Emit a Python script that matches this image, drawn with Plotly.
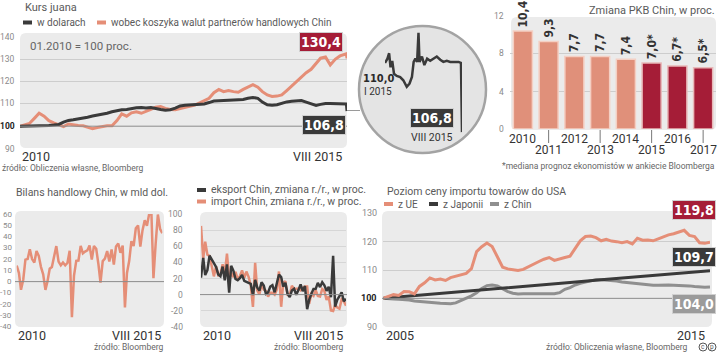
import plotly.graph_objects as go
import pandas as pd

W, H = 720, 353
def fx(px): return px / W
def fy(py): return 1 - py / H

# ---------------- DATA ----------------
# Panel 1: yuan exchange rate index (01.2010 = 100), monthly Jan 2010 - Jul 2015, then 10 and 14 Aug 2015
yuan_dates = [d.strftime('%Y-%m-%d') for d in pd.date_range('2010-01-01', '2015-07-01', freq='MS')] + ['2015-08-10', '2015-08-14']
yuan_usd = [100, 100, 100, 100, 100, 100, 100.3, 100.5, 100.8, 101.8, 102.6, 102.9,
            103.2, 103.5, 104, 104.6, 104.9, 105.3, 105.8, 106.5, 107, 107.4, 107.5, 108,
            108.3, 108.4, 108.2, 108.4, 107.8, 107.5, 107.2, 107.4, 108.1, 109.1, 109.4, 109.5,
            109.6, 109.6, 110, 110.6, 111.3, 111.4, 111.5, 111.6, 111.6, 111.8, 112, 112.5,
            112.9, 112.5, 110.8, 109.6, 109.4, 109.6, 110.4, 110.9, 111.2, 111.5, 111.5, 110.8,
            110.0, 109.3, 109.8, 110.2, 110.2, 110.1, 110.1, 110.0, 106.8]
yuan_basket = [100, 100.5, 101.2, 103.5, 105.8, 104.5, 102.5, 101.5, 100.5, 99.8, 101, 100.6,
               100.3, 100.2, 99.6, 98.9, 99.4, 99.8, 100.2, 100.2, 102.5, 105.5, 104.5, 106,
               106.5, 105.8, 106.8, 107.5, 108.5, 108.8, 108, 107.5, 107.4, 108, 108.6, 109,
               109.5, 110.5, 111.5, 112.5, 115, 116.5, 115.5, 116, 115.5, 115.2, 116.5, 117.5,
               118.6, 117.5, 115.5, 114, 113.3, 113.5, 114, 116, 118, 120, 122, 124,
               125.5, 128, 130.5, 131, 127.5, 130, 131.5, 132.5, 130.4]

# Circle: zoom on USD rate in 2015
zoom_dates = ['2015-01-02', '2015-01-09', '2015-01-14', '2015-01-18', '2015-01-23', '2015-01-28',
              '2015-02-05', '2015-02-15', '2015-02-24', '2015-03-06', '2015-03-14', '2015-03-21',
              '2015-03-26', '2015-03-31', '2015-04-05', '2015-04-09', '2015-04-12', '2015-04-19',
              '2015-04-26', '2015-05-04', '2015-05-13', '2015-05-22', '2015-06-01', '2015-06-11',
              '2015-06-20', '2015-06-30', '2015-07-10', '2015-07-20', '2015-08-03', '2015-08-10',
              '2015-08-13']
zoom_usd = [110.0, 110.2, 110.45, 109.8, 110.1, 109.5, 109.4, 109.35, 109.2, 108.9, 109.05, 109.35,
            110.05, 110.2, 110.05, 111.4, 110.05, 110.3, 109.9, 110.2, 110.1, 110.2, 110.3, 110.15,
            110.05, 110.1, 110.05, 110.05, 110.05, 110.0, 106.8]

# Panel: GDP change
gdp_years = ['2010', '2011', '2012', '2013', '2014', '2015', '2016', '2017']
gdp_values = [10.4, 9.3, 7.7, 7.7, 7.4, 7.0, 6.7, 6.5]
gdp_labels = ['10,4', '9,3', '7,7', '7,7', '7,4', '7,0*', '6,7*', '6,5*']
gdp_forecast = [False, False, False, False, False, True, True, True]

# Panel: trade balance, bn USD, monthly Jan 2010 - Jul 2015
tb_dates = [d.strftime('%Y-%m-%d') for d in pd.date_range('2010-01-01', '2015-07-01', freq='MS')]
trade_balance = [14.2, 7.6, -7.2, 1.7, 19.5, 20.0, 28.7, 20.0, 16.9, 27.1, 22.9, 13.1,
                 6.5, -7.3, 0.1, 11.4, 13.0, 22.3, 31.5, 17.8, 14.5, 17.0, 14.5, 16.5,
                 27.3, -31.5, 5.4, 18.4, 18.7, 31.7, 25.1, 26.7, 27.7, 32.0, 19.6, 31.6,
                 29.2, 15.2, -0.9, 18.2, 20.4, 27.1, 17.8, 28.5, 15.2, 31.1, 33.8, 25.6,
                 31.9, -23.0, 7.7, 18.5, 35.9, 31.6, 47.3, 49.8, 31.0, 45.4, 54.5, 49.6,
                 60.0, 60.6, 3.1, 34.1, 59.5, 46.5, 43.0]

# Panel: exports / imports y/y, %, monthly Jan 2010 - Aug 2015
xm_dates = [d.strftime('%Y-%m-%d') for d in pd.date_range('2010-01-01', '2015-08-01', freq='MS')]
exports_yoy = [21.0, 45.7, 24.3, 30.5, 48.5, 43.9, 38.1, 34.4, 25.1, 22.9, 34.9, 17.9,
               37.7, 2.4, 35.8, 29.9, 19.4, 17.9, 20.4, 24.5, 17.1, 15.9, 13.8, 13.4,
               -0.5, 18.4, 8.9, 4.9, 15.3, 11.3, 1.0, 2.7, 9.9, 11.6, 2.9, 14.1,
               25.0, 21.8, 10.0, 14.7, 1.0, -3.1, 5.1, 7.2, -0.3, 5.6, 12.7, 4.3,
               10.6, -18.1, -6.6, 0.9, 7.0, 7.2, 14.5, 9.4, 15.3, 11.6, 4.7, 9.7,
               -3.3, 48.3, -15.0, -6.4, -2.5, 2.8, -8.3, -5.5]
imports_yoy = [85.5, 44.7, 66.0, 49.7, 48.3, 34.1, 22.7, 35.2, 24.1, 25.3, 37.7, 25.6,
               51.0, 19.4, 27.3, 21.8, 28.4, 19.3, 22.9, 30.2, 20.9, 28.7, 22.1, 11.8,
               -15.3, 39.6, 5.3, 0.3, 12.7, 6.3, 4.7, -2.6, 2.4, 2.4, 0.0, 6.0,
               28.8, -15.2, 14.1, 16.8, -0.3, -0.7, 10.9, 7.0, 7.4, 7.6, 5.3, 8.3,
               10.0, 10.1, -11.3, 0.8, -1.6, 5.5, -1.6, -2.4, 7.0, 4.6, -6.7, -2.4,
               -19.9, -20.5, -12.7, -16.2, -17.6, -6.1, -8.1, -13.8]

# Panel: US import price levels, every 2 months Jan 2005 - Jul 2015
us_dates = [d.strftime('%Y-%m-%d') for d in pd.date_range('2005-01-01', periods=64, freq='2MS')]
us_from_eu = [100, 100.7, 101.3, 101.0, 102.4, 102.3, 101.6, 104.2, 105.5, 107.2,
              106.5, 106.8, 106.3, 107.3, 107.8, 108.3, 108.8, 110.5, 116.5, 118.2,
              119.5, 118.3, 114.5, 111.0, 110.4, 110.0, 109.8, 110.2, 111.2, 112.3,
              113.0, 113.8, 114.4, 113.4, 113.8, 114.4, 114.9, 117.5, 120.3, 121.8,
              122.0, 121.4, 120.3, 120.8, 120.2, 120.0, 119.6, 120.0, 119.2, 121.2,
              120.5, 120.6, 120.3, 121.0, 121.8, 122.4, 122.8, 123.5, 124.0, 122.2,
              121.8, 119.6, 119.4, 119.8]
us_from_china = [100, 100.0, 99.8, 99.7, 99.6, 99.4, 99.1, 98.9, 98.7, 98.5,
                 98.4, 98.3, 98.2, 98.1, 98.4, 99.2, 100.2, 100.9, 102.0, 103.5,
                 104.5, 104.7, 104.4, 103.4, 102.4, 101.8, 101.5, 101.6, 101.6, 101.4,
                 101.4, 101.6, 101.6, 101.6, 102.0, 103.2, 103.8, 104.7, 105.3, 105.7,
                 106.1, 106.6, 106.6, 106.5, 106.4, 106.1, 105.8, 105.6, 105.4, 105.2,
                 104.8, 104.6, 104.6, 104.6, 104.7, 104.7, 104.6, 104.6, 104.5, 104.4,
                 104.2, 104.0, 103.9, 104.0]
jp_dates = ['2005-01-01', '2006-01-01', '2007-01-01', '2008-01-01', '2009-01-01', '2010-01-01',
            '2011-01-01', '2012-01-01', '2013-01-01', '2014-01-01', '2015-01-01', '2015-07-01']
us_from_japan = [100, 100.9, 101.8, 102.8, 103.7, 104.6, 105.6, 106.6, 107.5, 108.4, 109.3, 109.7]

# ---------------- STYLE ----------------
SALMON = '#e58e77'
DARK = '#3a3a3a'
GREYL = '#8f8f8f'
RED = '#a51d37'
BG = '#ebebeb'
GRID = '#cdcdcd'
ZERO = '#8c8c8c'
TXT = '#5a5a5a'
TICK = '#8a8a8a'
FONT = 'Roboto, "Open Sans", sans-serif'
NARROW = '"Liberation Sans Narrow", "DejaVu Sans Condensed", Roboto, sans-serif'

fig = go.Figure()

# Panel 1
fig.add_trace(go.Scatter(x=yuan_dates, y=yuan_basket, mode='lines', line=dict(color=SALMON, width=3),
                         xaxis='x', yaxis='y'))
fig.add_trace(go.Scatter(x=yuan_dates, y=yuan_usd, mode='lines', line=dict(color=DARK, width=3),
                         xaxis='x', yaxis='y'))
# Circle zoom
fig.add_trace(go.Scatter(x=zoom_dates, y=zoom_usd, mode='lines', line=dict(color=DARK, width=2.5),
                         xaxis='x2', yaxis='y2'))
# GDP bars
fig.add_trace(go.Bar(x=gdp_years, y=gdp_values, width=0.74,
                     marker=dict(color=[RED if f else '#e0907a' for f in gdp_forecast],
                                 line=dict(color=['#e8b9b9' if f else '#f4cfc3' for f in gdp_forecast], width=1.5)),
                     xaxis='x3', yaxis='y3'))
# Trade balance
fig.add_trace(go.Scatter(x=tb_dates, y=trade_balance, mode='lines', line=dict(color=SALMON, width=2.5),
                         xaxis='x4', yaxis='y4'))
# Exports / imports
fig.add_trace(go.Scatter(x=xm_dates, y=imports_yoy, mode='lines', line=dict(color=SALMON, width=2.5),
                         xaxis='x5', yaxis='y5'))
fig.add_trace(go.Scatter(x=xm_dates, y=exports_yoy, mode='lines', line=dict(color=DARK, width=2.5),
                         xaxis='x5', yaxis='y5'))
# US import prices
fig.add_trace(go.Scatter(x=us_dates, y=us_from_china, mode='lines', line=dict(color=GREYL, width=3),
                         xaxis='x6', yaxis='y6'))
fig.add_trace(go.Scatter(x=jp_dates, y=us_from_japan, mode='lines', line=dict(color=DARK, width=3),
                         xaxis='x6', yaxis='y6'))
fig.add_trace(go.Scatter(x=us_dates, y=us_from_eu, mode='lines', line=dict(color=SALMON, width=3),
                         xaxis='x6', yaxis='y6'))

def ax(**kw):
    d = dict(showticklabels=False, showgrid=False, zeroline=False, showline=False, ticks='', fixedrange=True)
    d.update(kw)
    return d

layout = dict(
    width=W, height=H, margin=dict(l=0, r=0, t=0, b=0), showlegend=False,
    paper_bgcolor='white', plot_bgcolor='rgba(0,0,0,0)', font=dict(family=FONT),
    xaxis=ax(type='date', range=['2010-01-01', '2015-08-14'], domain=[fx(20), fx(347)], anchor='y'),
    yaxis=ax(range=[90, 140], domain=[fy(148.5), fy(37)], anchor='x', showgrid=True, gridcolor=GRID,
             gridwidth=1, tickvals=[110, 120, 130]),
    xaxis2=ax(type='date', range=['2015-01-02', '2015-08-13'], domain=[fx(385), fx(462)], anchor='y2'),
    yaxis2=ax(range=[106.5, 111.6], domain=[fy(138.6), fy(28.4)], anchor='x2'),
    xaxis3=ax(type='category', range=[-0.5, 7.5], domain=[fx(510), fx(716)], anchor='y3'),
    yaxis3=ax(range=[0, 12], domain=[fy(129), fy(16)], anchor='x3', showgrid=True, gridcolor=GRID,
              tickvals=[4, 8]),
    xaxis4=ax(type='date', range=['2010-01-01', '2015-07-01'], domain=[fx(16.7), fx(162.3)], anchor='y4'),
    yaxis4=ax(range=[-40, 60], domain=[fy(326.7), fy(214)], anchor='x4'),
    xaxis5=ax(type='date', range=['2010-01-01', '2015-08-01'], domain=[fx(201), fx(346)], anchor='y5'),
    yaxis5=ax(range=[-40, 100], domain=[fy(326.7), fy(214.3)], anchor='x5', showgrid=True, gridcolor='#d6d6d6',
              tickvals=[-20, 20, 40, 60, 80]),
    xaxis6=ax(type='date', range=['2005-01-01', '2015-07-01'], domain=[fx(383.3), fx(710)], anchor='y6'),
    yaxis6=ax(range=[90, 130], domain=[fy(326.7), fy(213.3)], anchor='x6', showgrid=True, gridcolor=GRID,
              tickvals=[110, 120]),
)

# ---------------- SHAPES ----------------
def rrect(x0, y0, x1, y1, r=6, fill=BG):
    rx, ry = r / W, r / H
    X0, X1, Y0, Y1 = fx(x0), fx(x1), fy(y1), fy(y0)  # Y0 bottom, Y1 top
    p = (f"M {X0+rx} {Y1} L {X1-rx} {Y1} Q {X1} {Y1} {X1} {Y1-ry} L {X1} {Y0+ry} Q {X1} {Y0} {X1-rx} {Y0} "
         f"L {X0+rx} {Y0} Q {X0} {Y0} {X0} {Y0+ry} L {X0} {Y1-ry} Q {X0} {Y1} {X0+rx} {Y1} Z")
    return dict(type='path', path=p, xref='paper', yref='paper', fillcolor=fill, line=dict(width=0), layer='below')

shapes = [
    rrect(20, 33, 347, 148),
    rrect(511, 17, 716, 130),
    rrect(15, 211, 164, 327),
    rrect(200, 212, 347, 327),
    rrect(382, 211, 712, 327),
    # circle
    dict(type='circle', xref='paper', yref='paper', x0=fx(359), x1=fx(486), y0=fy(153), y1=fy(26),
         fillcolor='#e4e4e4', line=dict(color='#a3a3a3', width=2.5), layer='below'),
    # connector
    dict(type='line', xref='paper', yref='paper', x0=fx(347), x1=fx(360), y0=fy(110.5), y1=fy(110.5),
         line=dict(color='#9a9a9a', width=1)),
    # baselines
    dict(type='line', xref='paper', yref='y', x0=fx(20), x1=fx(347), y0=100, y1=100, line=dict(color=ZERO, width=1)),
    dict(type='line', xref='paper', yref='y4', x0=fx(15), x1=fx(164), y0=0, y1=0, line=dict(color=ZERO, width=1)),
    dict(type='line', xref='paper', yref='y5', x0=fx(200), x1=fx(347), y0=0, y1=0, line=dict(color=ZERO, width=1)),
    dict(type='line', xref='paper', yref='y6', x0=fx(382), x1=fx(712), y0=100, y1=100, line=dict(color=ZERO, width=1)),
]
# legend markers
def lm(x0, py, color):
    return dict(type='line', xref='paper', yref='paper', x0=fx(x0), x1=fx(x0 + 9), y0=fy(py), y1=fy(py),
                line=dict(color=color, width=4))
shapes += [lm(23, 22.5, DARK), lm(97, 22.5, SALMON), lm(197, 190, DARK), lm(197, 201.5, SALMON),
           lm(384, 204, SALMON), lm(429, 204, DARK), lm(490, 204, GREYL)]
# tick lines for odd years under GDP bars
for i, yr in enumerate(gdp_years):
    if i % 2 == 1:
        shapes.append(dict(type='line', xref='x3', yref='paper', x0=i, x1=i, y0=fy(143), y1=fy(130),
                           line=dict(color='#777777', width=1)))
# cc icon
shapes += [dict(type='circle', xref='paper', yref='paper', x0=fx(699), x1=fx(707), y0=fy(351), y1=fy(343),
                line=dict(color='#555', width=1)),
           dict(type='circle', xref='paper', yref='paper', x0=fx(708), x1=fx(716), y0=fy(351), y1=fy(343),
                line=dict(color='#555', width=1))]
layout['shapes'] = shapes

# ---------------- ANNOTATIONS ----------------
def t(px, py, s, size=10.5, color=TXT, xa='left', ya='middle', family=FONT, **kw):
    return dict(x=fx(px), y=fy(py), xref='paper', yref='paper', text=s, showarrow=False,
                xanchor=xa, yanchor=ya, font=dict(size=size, color=color, family=family), **kw)

def box(cx, cy, s, bg, size=14):
    return dict(x=fx(cx), y=fy(cy), xref='paper', yref='paper', text='<b>' + s + '</b>', showarrow=False,
                xanchor='center', yanchor='middle', font=dict(size=size, color='white', family=NARROW),
                bgcolor=bg, bordercolor='#d0d0d0', borderwidth=1, borderpad=1)

ann = []
# Panel 1
ann += [t(23, 7, 'Kurs juana', 11), t(35, 22.5, 'w dolarach', 10),
        t(109, 22.5, 'wobec koszyka walut partnerów handlowych Chin', 10),
        t(28, 46.5, '01.2010 = 100 proc.', 11.5, '#666666')]
for v, py in [(140, 37), (130, 59), (120, 81), (110, 103), (100, 126), (90, 149)]:
    if v == 100:
        ann.append(t(17, py, '<b>100</b>', 8.5, '#222222', xa='right'))
    else:
        ann.append(t(17, py, str(v), 8.5, TICK, xa='right'))
ann += [t(20, 156.5, '2010', 12.5, '#333333'), t(344, 156.5, 'VIII 2015', 12.5, '#333333', xa='right'),
        t(0, 167.5, 'źródło: Obliczenia własne, Bloomberg', 8.5, '#666666'),
        box(320.5, 42.5, '130,4', RED), box(324, 125, '106,8', DARK)]
# Circle
ann += [t(361, 78, '<b>110,0</b>', 11, '#2a2a2a', family=NARROW), t(362, 91, 'I 2015', 10, '#333333'),
        box(432, 118, '106,8', DARK), t(432, 137, 'VIII 2015', 10.5, '#333333', xa='center')]
# GDP
ann += [t(717, 10, 'Zmiana PKB Chin, w proc.', 11, TXT, xa='right')]
for v, py in [(12, 16), (8, 53), (4, 92), (0, 129)]:
    ann.append(t(506, py, str(v), 8.5, TICK, xa='right'))
for i, (yr, val, lab) in enumerate(zip(gdp_years, gdp_values, gdp_labels)):
    ann.append(dict(x=i, y=val, xref='x3', yref='y3', text='<b>' + lab + '</b>', showarrow=False,
                    textangle=-90, xanchor='center', yanchor='bottom', yshift=2,
                    font=dict(size=12, color='#333333', family=NARROW)))
    ann.append(dict(x=i, y=fy(139 if i % 2 == 0 else 150), xref='x3', yref='paper', text=yr, showarrow=False,
                    xanchor='center', yanchor='middle', font=dict(size=12, color='#333333', family=FONT)))
ann.append(t(717, 166, '*mediana prognoz ekonomistów w ankiecie Bloomberga', 8.5, '#666666', xa='right'))
# Trade balance
ann += [t(14, 192, 'Bilans handlowy Chin, w mld dol.', 10.5)]
for v in [60, 50, 40, 30, 20, 10, 0, -10, -20, -30, -40]:
    ann.append(t(14, 326.7 - (v + 40) * 1.127, str(v), 8, TICK, xa='right'))
ann += [t(16, 335, '2010', 12.5, '#333333'), t(163, 335, 'VIII 2015', 12.5, '#333333', xa='right'),
        t(166, 347, 'źródło: Bloomberg', 8.5, '#666666', xa='right')]
# Exports / imports
ann += [t(209, 190, 'eksport Chin, zmiana r./r., w proc.', 10.5), t(209, 201.5, 'import Chin, zmiana r./r., w proc.', 10.5)]
for v in [100, 80, 60, 40, 20, 0, -20, -40]:
    ann.append(t(185, 326.7 - (v + 40) * 0.8031, str(v), 8.5, TICK, xa='right'))
ann += [t(201, 335, '2010', 12.5, '#333333'), t(345, 335, 'VIII 2015', 12.5, '#333333', xa='right'),
        t(346, 347, 'źródło: Bloomberg', 8.5, '#666666', xa='right')]
# US import prices
ann += [t(385, 191, 'Poziom ceny importu towarów do USA', 10.5),
        t(396, 204, 'z UE', 10), t(441, 204, 'z Japonii', 10), t(502, 204, 'z Chin', 10)]
for v in [130, 120, 110, 100, 90]:
    py = 326.7 - (v - 90) * 2.835
    if v == 100:
        ann.append(t(379, py, '<b>100</b>', 9, '#222222', xa='right'))
    else:
        ann.append(t(379, py, str(v), 9, TICK, xa='right'))
ann += [t(384, 335, '2005', 12.5, '#333333'), t(707, 335, '2015', 12.5, '#333333', xa='right'),
        t(690, 347, 'źródło: Obliczenia własne, Bloomberg', 8.5, '#666666', xa='right'),
        t(703, 347, 'c', 6.5, '#555', xa='center'), t(712, 347, 'p', 6.5, '#555', xa='center'),
        box(694, 210, '119,8', RED), box(694, 257, '109,7', DARK), box(694, 304, '104,0', '#9b9b9b')]
layout['annotations'] = ann

fig.update_layout(**layout)
fig.write_html('out.html')
